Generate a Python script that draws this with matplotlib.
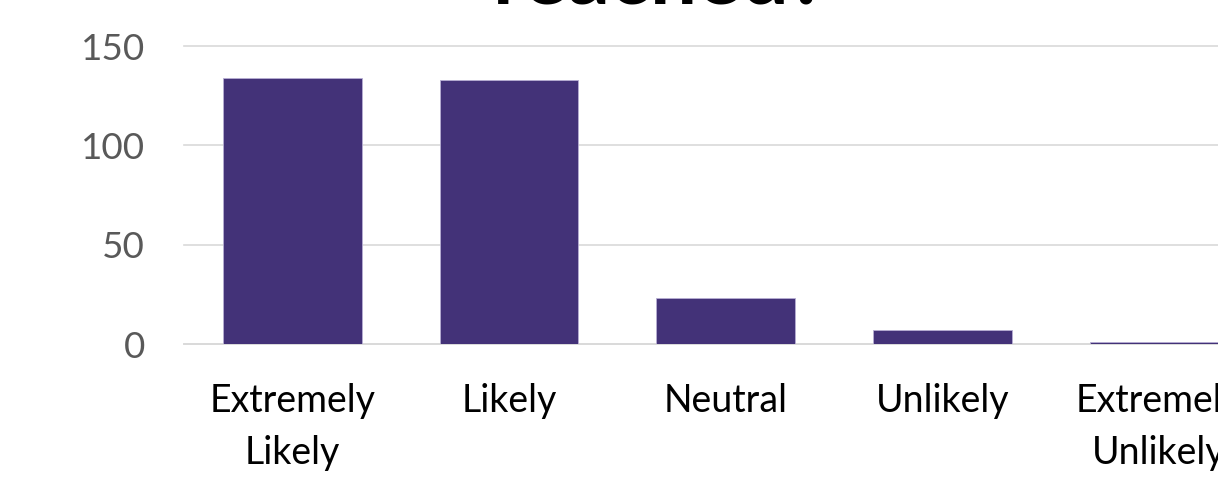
import matplotlib.pyplot as plt

categories = ["Extremely\nLikely", "Likely", "Neutral", "Unlikely", "Extremely\nUnlikely"]
counts = [134, 133, 23, 7, 1]
y_ticks = [0, 50, 100, 150]

BAR_COLOR = "#433278"
GRID_COLOR = "#d9d9d9"

plt.rcParams['font.family'] = ['Lato', 'DejaVu Sans']

fig = plt.figure(figsize=(12.18, 4.79), dpi=100)
# the plot area runs past the right edge of the canvas
ax = fig.add_axes([0.151, 0.2818, 0.8896, 0.622])

x = range(len(categories))
ax.bar(x, counts, width=0.64, color=BAR_COLOR, edgecolor="#b7aed3", linewidth=0.6, zorder=3)

ax.set_xlim(-0.5, len(categories) - 0.5)
ax.set_ylim(0, 150)
ax.set_yticks(y_ticks)
ax.set_xticks(list(x))
ax.set_xticklabels(categories, fontsize=27, color="black", linespacing=1.55)
ax.tick_params(axis='y', labelsize=26.5, labelcolor="#595959", length=0, pad=28)
ax.tick_params(axis='x', length=0, pad=28)

ax.grid(axis='y', color=GRID_COLOR, linewidth=1.2, zorder=0)
for line in ax.get_ygridlines():
    line.set_clip_on(False)
for side in ["top", "right", "left"]:
    ax.spines[side].set_visible(False)
ax.spines["bottom"].set_color(GRID_COLOR)
ax.spines["bottom"].set_linewidth(1.2)

fig.text(0.542, 0.993, "reached?", ha="center", va="baseline", fontsize=60,
         fontweight="bold", color="black")

fig.savefig("out.png", dpi=100)
